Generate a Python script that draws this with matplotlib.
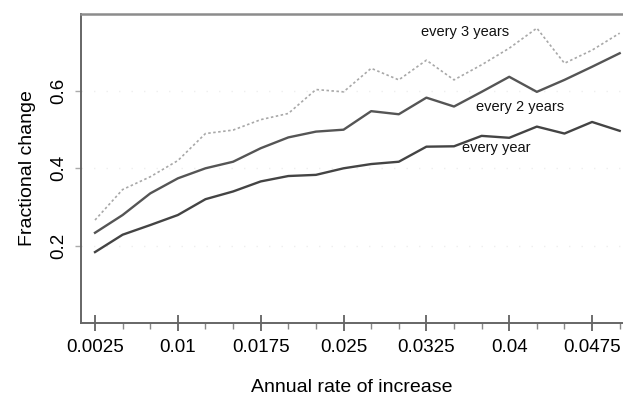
import matplotlib
matplotlib.use("Agg")
import matplotlib.pyplot as plt
from matplotlib.ticker import MultipleLocator

plt.rcParams['font.family'] = ['Liberation Sans', 'DejaVu Sans']

# annual rate of increase, 0.0025 .. 0.05
rates = [0.0025, 0.005, 0.0075, 0.01, 0.0125, 0.015, 0.0175, 0.02, 0.0225, 0.025,
         0.0275, 0.03, 0.0325, 0.035, 0.0375, 0.04, 0.0425, 0.045, 0.0475, 0.05]

every_year = [0.183, 0.228, 0.253, 0.279, 0.320, 0.340, 0.366, 0.380, 0.383, 0.400,
              0.411, 0.417, 0.456, 0.457, 0.484, 0.479, 0.508, 0.490, 0.520, 0.497]
every_2_years = [0.233, 0.279, 0.335, 0.374, 0.400, 0.417, 0.452, 0.480, 0.495, 0.500,
                 0.548, 0.540, 0.583, 0.560, 0.598, 0.637, 0.598, 0.629, 0.663, 0.698]
every_3_years = [0.266, 0.345, 0.378, 0.420, 0.490, 0.499, 0.526, 0.542, 0.604, 0.598,
                 0.659, 0.629, 0.680, 0.629, 0.668, 0.711, 0.763, 0.672, 0.706, 0.750]

major_ticks = [0.0025, 0.01, 0.0175, 0.025, 0.0325, 0.04, 0.0475]
major_labels = ["0.0025", "0.01", "0.0175", "0.025", "0.0325", "0.04", "0.0475"]
y_ticks = [0.2, 0.4, 0.6]

fig = plt.figure(figsize=(6.23, 3.96), dpi=100)
ax = fig.add_axes([0.130, 0.185, 0.870, 0.780])

ax.plot(rates, every_3_years, color="#a8a8a8", lw=1.2, ls=(0, (1.5, 1.5)))
ax.plot(rates, every_2_years, color="#555555", lw=1.7)
ax.plot(rates, every_year, color="#444444", lw=1.7)

ax.text(0.0360, 0.752, "every 3 years", fontsize=10.5, ha="center", va="center", color="#111111")
ax.text(0.0410, 0.560, "every 2 years", fontsize=10.5, ha="center", va="center", color="#111111")
ax.text(0.0357, 0.452, "every year", fontsize=10.5, ha="left", va="center", color="#111111")

ax.set_xlim(0.00123, 0.0503)
ax.set_ylim(0, 0.8)

ax.set_xticks(major_ticks)
ax.set_xticklabels(major_labels, fontsize=13.5)
ax.xaxis.set_minor_locator(MultipleLocator(0.0025))
ax.tick_params(axis="x", which="major", direction="inout", length=11, width=1.2, color="#555555", pad=6)
ax.tick_params(axis="x", which="minor", direction="out", length=4, width=1, color="#888888")

ax.set_yticks(y_ticks)
ax.set_yticklabels(["0.2", "0.4", "0.6"], fontsize=13.5, rotation=90, va="center")
ax.tick_params(axis="y", direction="out", length=4, width=1, color="#aaaaaa", pad=6)

ax.grid(axis="y", color="#eeeeee", ls=(0, (1, 8)), lw=1)

ax.spines["right"].set_visible(False)
ax.spines["top"].set_color("#8c8c8c")
ax.spines["top"].set_linewidth(1.8)
ax.spines["left"].set_color("#666666")
ax.spines["left"].set_linewidth(1.4)
ax.spines["bottom"].set_color("#666666")
ax.spines["bottom"].set_linewidth(1.4)

ax.set_xlabel("Annual rate of increase", fontsize=14, labelpad=17)
ax.set_ylabel("Fractional change", fontsize=14, labelpad=10)

plt.savefig("out.png", dpi=100)
